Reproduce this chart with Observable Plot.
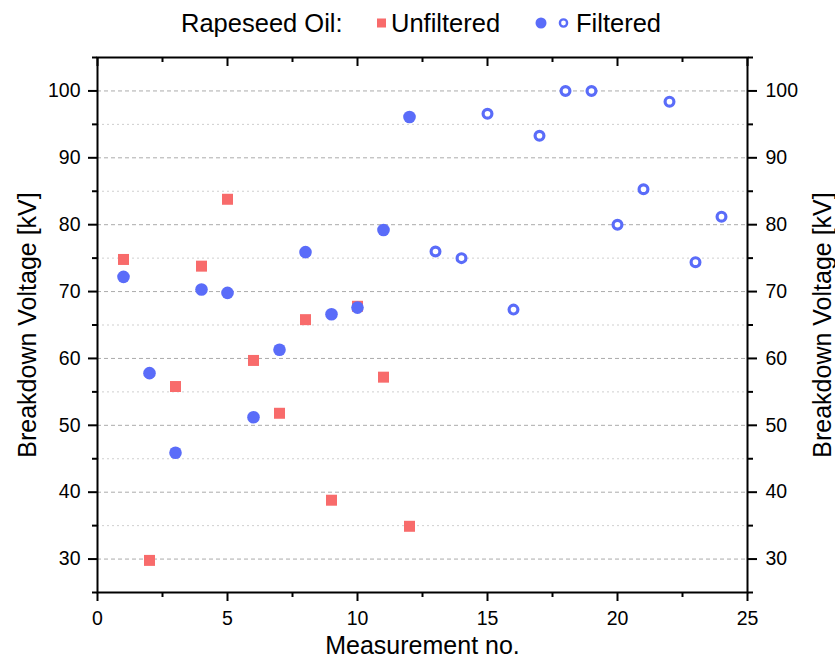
<!DOCTYPE html>
<html>
<head>
<meta charset="utf-8">
<script src="https://cdn.jsdelivr.net/npm/d3@7"></script>
<script src="https://cdn.jsdelivr.net/npm/@observablehq/plot@0.6"></script>
<style>
  html, body { margin: 0; padding: 0; background: #ffffff; }
  body { width: 835px; height: 669px; overflow: hidden; font-family: "Liberation Sans", Arial, sans-serif; }
  #legend, #chart svg { display: block; }
</style>
</head>
<body>
<svg id="legend" width="835" height="45"></svg>
<div id="chart"></div>
<script>
// ---- data ----
const unfilteredX = [1, 2, 3, 4, 5, 6, 7, 8, 9, 10, 11, 12];
const unfilteredY = [74.8, 29.8, 55.8, 73.8, 83.8, 59.7, 51.8, 65.8, 38.8, 67.8, 57.2, 34.9];
const filteredSolidX = [1, 2, 3, 4, 5, 6, 7, 8, 9, 10, 11, 12];
const filteredSolidY = [72.2, 57.8, 45.9, 70.3, 69.8, 51.2, 61.3, 75.9, 66.6, 67.6, 79.2, 96.1];
const filteredOpenX = [13, 14, 15, 16, 17, 18, 19, 20, 21, 22, 23, 24];
const filteredOpenY = [76.0, 75.0, 96.6, 67.3, 93.3, 100.0, 100.0, 80.0, 85.3, 98.4, 74.4, 81.2];
const xMajorTicks = [0, 5, 10, 15, 20, 25];
const xMinorTicks = [2.5, 7.5, 12.5, 17.5, 22.5];
const yMajorTicks = [30, 40, 50, 60, 70, 80, 90, 100];
const yMinorTicks = [25, 35, 45, 55, 65, 75, 85, 95, 105];
const legendTitle = "Rapeseed Oil:";
const seriesNames = ["Unfiltered", "Filtered"];
const xTitle = "Measurement no.";
const yTitle = "Breakdown Voltage [kV]";

// ---- styles ----
const RED = "#f86b6b";
const BLUE = "#5a6cf9";
const FONT = "Liberation Sans, Arial, sans-serif";

const unfiltered = unfilteredX.map((x, i) => ({x, y: unfilteredY[i]}));
const filteredSolid = filteredSolidX.map((x, i) => ({x, y: filteredSolidY[i]}));
const filteredOpen = filteredOpenX.map((x, i) => ({x, y: filteredOpenY[i]}));

// ---- legend (above the chart) ----
const lg = d3.select("#legend").attr("font-family", FONT).attr("font-size", 25.5);
lg.append("text").attr("x", 181).attr("y", 32).attr("fill", "#000").text(legendTitle);
lg.append("rect").attr("x", 377).attr("y", 18.5).attr("width", 9).attr("height", 9).attr("fill", RED);
lg.append("text").attr("x", 391).attr("y", 32).attr("fill", "#000").text(seriesNames[0]);
lg.append("circle").attr("cx", 541).attr("cy", 23).attr("r", 5.5).attr("fill", BLUE);
lg.append("circle").attr("cx", 563.5).attr("cy", 23).attr("r", 3.6).attr("fill", "#fff").attr("stroke", BLUE).attr("stroke-width", 2.4);
lg.append("text").attr("x", 576).attr("y", 32).attr("fill", "#000").text(seriesNames[1]);

// ---- chart ----
const gridMinor = yMinorTicks.filter(v => v > 25 && v < 105);
const noLabel = () => "";

const chart = Plot.plot({
  width: 835,
  height: 624,
  marginTop: 12,
  marginBottom: 77,
  marginLeft: 97,
  marginRight: 88,
  style: {fontFamily: FONT, fontSize: "19.5px", color: "#000", background: "#fff", overflow: "visible"},
  x: {domain: [0, 25], label: null},
  y: {domain: [25, 105], label: null},
  marks: [
    Plot.ruleY(gridMinor, {stroke: "#cfcfcf", strokeDasharray: "2,3", strokeWidth: 1}),
    Plot.ruleY(yMajorTicks, {stroke: "#ababab", strokeDasharray: "4,3", strokeWidth: 1}),
    // left axis
    Plot.axisY({anchor: "left", ticks: yMajorTicks, tickSize: 9, tickPadding: 8, strokeWidth: 2, label: null}),
    Plot.axisY({anchor: "left", ticks: yMinorTicks, tickSize: 5, tickFormat: noLabel, strokeWidth: 2, label: null}),
    // right axis
    Plot.axisY({anchor: "right", ticks: yMajorTicks, tickSize: 9, tickPadding: 9, strokeWidth: 2, label: null}),
    Plot.axisY({anchor: "right", ticks: yMinorTicks, tickSize: 5, tickFormat: noLabel, strokeWidth: 2, label: null}),
    // bottom axis
    Plot.axisX({anchor: "bottom", ticks: xMajorTicks, tickSize: 9, tickPadding: 10, strokeWidth: 2, label: null}),
    Plot.axisX({anchor: "bottom", ticks: xMinorTicks, tickSize: 5, tickFormat: noLabel, strokeWidth: 2, label: null}),
    // top axis (inward ticks)
    Plot.axisX({anchor: "top", ticks: xMajorTicks, tickSize: -8, tickFormat: noLabel, strokeWidth: 2, label: null}),
    Plot.axisX({anchor: "top", ticks: xMinorTicks, tickSize: -4, tickFormat: noLabel, strokeWidth: 2, label: null}),
    Plot.frame({stroke: "#000", strokeWidth: 2}),
    // axis titles
    Plot.text([xTitle], {frameAnchor: "bottom", dy: 61.5, fontSize: 25, fill: "#000", textAnchor: "middle"}),
    Plot.text([yTitle], {frameAnchor: "left", rotate: -90, dx: -70, fontSize: 25, fill: "#000", textAnchor: "middle"}),
    Plot.text([yTitle], {frameAnchor: "right", rotate: -90, dx: 75, fontSize: 25, fill: "#000", textAnchor: "middle"}),
    // data
    Plot.dot(unfiltered, {x: "x", y: "y", symbol: "square", r: 6.2, fill: RED}),
    Plot.dot(filteredSolid, {x: "x", y: "y", symbol: "circle", r: 6.3, fill: BLUE}),
    Plot.dot(filteredOpen, {x: "x", y: "y", symbol: "circle", r: 4.4, fill: "#fff", stroke: BLUE, strokeWidth: 3.2})
  ]
});
document.getElementById("chart").appendChild(chart);
</script>
</body>
</html>
